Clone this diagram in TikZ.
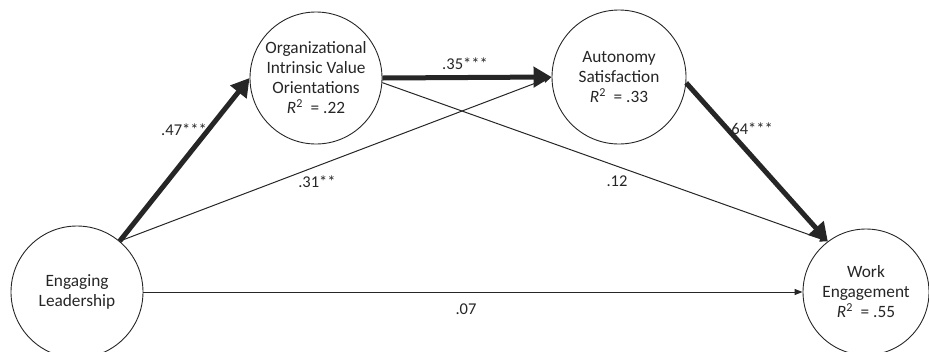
\documentclass[tikz,border=0pt]{standalone}
\usepackage{fontspec}
\setmainfont{Carlito}
\usetikzlibrary{arrows.meta}
\definecolor{ink}{gray}{0.15}
\begin{document}
\begin{tikzpicture}[x=1bp,y=-1bp,
  construct/.style={circle, draw=ink, line width=0.9bp, minimum size=132bp,
    inner sep=0pt, align=center, text=ink, font=\fontsize{17.3bp}{20bp}\selectfont},
  weak/.style={draw=ink, line width=1bp, -{Triangle[length=8bp,width=6bp]}},
  strong/.style={draw=ink, fill=ink, line width=5bp, -{Triangle[length=18bp,width=20bp]}},
  coef/.style={inner sep=0pt, text=ink, font=\fontsize{16.5bp}{18bp}\selectfont}]
\useasboundingbox (0,0) rectangle (929,351);

% constructs
\node[construct] (el) at (77,292) {Engaging\\Leadership};
\node[construct] (oivo) at (316,78) {Organizational\\Intrinsic Value\\Orientations\\\textit{R}\textsuperscript{2}~~= .22};
\node[construct, minimum size=134bp] (auto) at (619,77) {Autonomy\\Satisfaction\\\textit{R}\textsuperscript{2}~~= .33};
\node[construct, minimum size=126bp] (we) at (866,292) {Work\\Engagement\\\textit{R}\textsuperscript{2}~~= .55};

% path coefficients (drawn first so the paths lie on top)
\node[coef] (c1) at (184,130) {.47***};
\node[coef] (c2) at (465,64) {.35***};
\node[coef] (c3) at (317,182) {.31**};
\node[coef] (c4) at (617,181) {.12};
\node[coef] (c5) at (750,129) {.64***};
\node[coef] (c6) at (466,309) {.07};

% paths
\draw[weak] (el.50) -- (auto.west);
\draw[weak] (oivo.356) -- (we.127);
\draw[weak] (el.east) -- (we.west);
\draw[strong] (el.50) -- (oivo.west);
\draw[strong] (oivo.east) -- (auto.west);
\draw[strong] (auto.355) -- (we.127);
\end{tikzpicture}
\end{document}
